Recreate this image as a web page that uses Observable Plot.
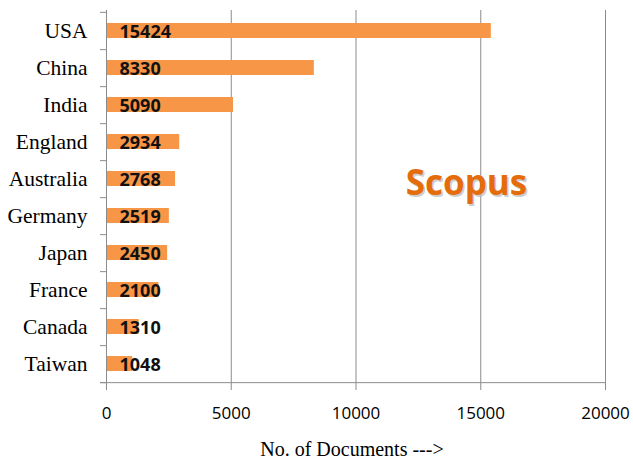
<!DOCTYPE html>
<html>
<head>
<meta charset="utf-8">
<script src="https://cdn.jsdelivr.net/npm/d3@7"></script>
<script src="https://cdn.jsdelivr.net/npm/@observablehq/plot@0.6"></script>
<style>
  html, body { margin: 0; padding: 0; background: #fff; }
</style>
</head>
<body>
<div id="chart"></div>
<script>
const countries = ["USA", "China", "India", "England", "Australia", "Germany", "Japan", "France", "Canada", "Taiwan"];
const documents = [15424, 8330, 5090, 2934, 2768, 2519, 2450, 2100, 1310, 1048];
const xTicks = [0, 5000, 10000, 15000, 20000];
const gridValues = [5000, 10000, 15000, 20000];
const xTitle = "No. of Documents --->";
const sourceLabel = [{text: "Scopus", x: 14430, y: "Australia"}];

const data = countries.map((c, i) => ({country: c, docs: documents[i]}));

const W = 633, H = 465;
const mTop = 10, mBottom = 82, mLeft = 106, mRight = 28;
const step = (H - mTop - mBottom) / countries.length;
const axisColor = "#8c8c8c";

const chart = Plot.plot({
  width: W,
  height: H,
  marginTop: mTop,
  marginBottom: mBottom,
  marginLeft: mLeft,
  marginRight: mRight,
  style: {background: "#fff", overflow: "visible"},
  x: {domain: [0, 20000], label: null},
  y: {domain: countries, paddingInner: 0.6, paddingOuter: 0.3, label: null},
  marks: [
    Plot.ruleX(gridValues, {stroke: axisColor, strokeWidth: 1}),
    Plot.barX(data, {y: "country", x: "docs", fill: "#F79646"}),
    Plot.ruleX([0], {stroke: axisColor, strokeWidth: 1}),
    Plot.ruleY([countries[countries.length - 1]], {y: d => d, x1: 0, x2: 20000, dy: step / 2, stroke: axisColor, insetLeft: -6}),
    Plot.ruleY(countries, {x1: 0, x2: 0, dy: step / 2, insetLeft: -6, stroke: axisColor}),
    Plot.ruleY([countries[0]], {y: d => d, x1: 0, x2: 0, dy: -step / 2, insetLeft: -6, stroke: axisColor}),
    Plot.axisX(xTicks, {
      tickSize: 7, tickPadding: 16, stroke: axisColor, tickFormat: d => String(d),
      fontFamily: "Open Sans", fontSize: 17, fill: "#000", label: null
    }),
    Plot.axisY({
      tickSize: 0, tickPadding: 19,
      fontFamily: "Liberation Serif", fontSize: 21.5, fill: "#000", label: null
    }),
    Plot.text(data, {
      y: "country", x: 0, text: d => String(d.docs), dx: 13, dy: 1,
      textAnchor: "start", fontFamily: "Open Sans", fontWeight: "bold", fontSize: 18, fill: "#111"
    }),
    Plot.text(sourceLabel, {
      x: "x", y: "y", text: "text", dx: 1.5, dy: 6.5,
      fontFamily: "Open Sans", fontWeight: "bold", fontSize: 35, fill: "#b9b9b9", fillOpacity: 0.7
    }),
    Plot.text(sourceLabel, {
      x: "x", y: "y", text: "text", dy: 5,
      fontFamily: "Open Sans", fontWeight: "bold", fontSize: 35, fill: "#E46C0A"
    }),
    Plot.text([xTitle], {
      frameAnchor: "bottom", text: d => d, dy: 72, dx: -4,
      fontFamily: "Liberation Serif", fontSize: 20, fill: "#000"
    })
  ]
});

document.getElementById("chart").appendChild(chart);
</script>
</body>
</html>
